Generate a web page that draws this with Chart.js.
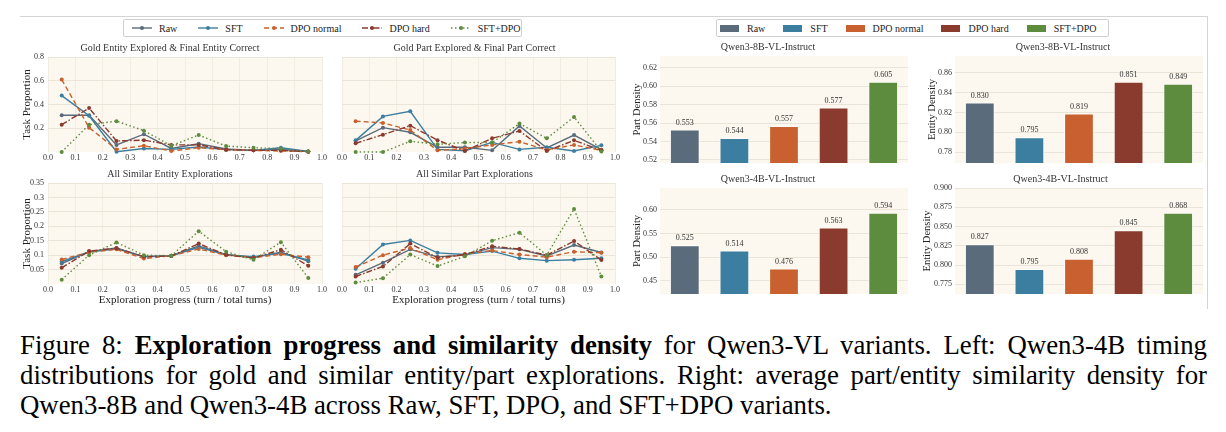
<!DOCTYPE html>
<html>
<head>
<meta charset="utf-8">
<script src="https://cdn.jsdelivr.net/npm/chart.js@4.4.1/dist/chart.umd.min.js"></script>
<style>
  body { margin: 0; background: #fff; width: 1226px; height: 432px; position: relative; overflow: hidden; font-family: "Liberation Serif", serif; }
  .cell { position: absolute; }
  .frame { position: absolute; left: 20px; top: 16px; width: 1187px; height: 292px; border-top: 1px solid #d4d4d4; border-right: 1px solid #d4d4d4; }
  .legend { position: absolute; top: 19px; height: 18px; border: 1px solid #cfcfcf; border-radius: 2px; background: #fff; display: flex; align-items: center; font-size: 10px; color: #222; box-sizing: border-box; white-space: nowrap; }
  .legend .item { display: flex; align-items: center; white-space: nowrap; }
  .legend svg { flex: none; }
  .caption { position: absolute; left: 20px; top: 330px; width: 1187px; font-size: 26.8px; line-height: 30px; color: #000; }
  .caption div { text-align: justify; text-align-last: justify; white-space: nowrap; }
  .caption div.last { text-align-last: left; }
</style>
</head>
<body>
<div class="frame"></div>
<div class="legend" id="lineLegend" style="left:123px; width:399px; padding-left:8px;"></div>
<div class="legend" id="barLegend" style="left:716px; width:393px; padding-left:3px;"></div>

<div class="cell" style="left:18px; top:42px; width:314px; height:124px;"><canvas id="c1"></canvas></div>
<div class="cell" style="left:334px; top:42px; width:291px; height:124px;"><canvas id="c2"></canvas></div>
<div class="cell" style="left:18px; top:168px; width:314px; height:139px;"><canvas id="c3"></canvas></div>
<div class="cell" style="left:334px; top:168px; width:291px; height:139px;"><canvas id="c4"></canvas></div>

<div class="cell" style="left:628px; top:41px; width:282px; height:122px;"><canvas id="b1"></canvas></div>
<div class="cell" style="left:923px; top:41px; width:282px; height:122px;"><canvas id="b2"></canvas></div>
<div class="cell" style="left:628px; top:173px; width:282px; height:121px;"><canvas id="b3"></canvas></div>
<div class="cell" style="left:918px; top:173px; width:287px; height:121px;"><canvas id="b4"></canvas></div>

<div class="caption">
  <div>Figure 8: <b>Exploration progress and similarity density</b> for Qwen3-VL variants. Left: Qwen3-4B timing</div>
  <div>distributions for gold and similar entity/part explorations. Right: average part/entity similarity density for</div>
  <div class="last">Qwen3-8B and Qwen3-4B across Raw, SFT, DPO, and SFT+DPO variants.</div>
</div>

<script>
// series
const seriesNames = ['Raw', 'SFT', 'DPO normal', 'DPO hard', 'SFT+DPO'];
const seriesColors = ['#5a6b7c', '#3b7ea0', '#c8612f', '#8b3a2e', '#5e8c3f'];
const lineDashes = [[], [], [5, 3], [6, 2, 1.5, 2], [1.5, 2.5]];

// exploration progress bins (x)
const progressBins = [0.05, 0.15, 0.25, 0.35, 0.45, 0.55, 0.65, 0.75, 0.85, 0.95];

// rows: Raw, SFT, DPO normal, DPO hard, SFT+DPO
const goldEntity = [
  [0.31, 0.31, 0.06, 0.15, 0.03, 0.07, 0.025, 0.014, 0.022, 0.004],
  [0.475, 0.305, 0.003, 0.03, 0.022, 0.042, 0.02, 0.014, 0.036, 0.004],
  [0.61, 0.205, 0.022, 0.053, 0.008, 0.036, 0.02, 0.014, 0.008, 0.003],
  [0.23, 0.37, 0.093, 0.10, 0.06, 0.06, 0.02, 0.014, 0.014, 0.003],
  [0.0, 0.23, 0.26, 0.18, 0.053, 0.143, 0.05, 0.036, 0.028, 0.004]
];
const goldPart = [
  [0.093, 0.205, 0.166, 0.04, 0.04, 0.014, 0.22, 0.034, 0.143, 0.02],
  [0.098, 0.30, 0.343, 0.022, 0.011, 0.081, 0.022, 0.04, 0.008, 0.056],
  [0.26, 0.245, 0.185, 0.014, 0.028, 0.06, 0.087, 0.017, 0.06, 0.014],
  [0.073, 0.146, 0.222, 0.10, 0.008, 0.115, 0.177, 0.008, 0.098, 0.014],
  [0.0, 0.0, 0.09, 0.065, 0.08, 0.079, 0.24, 0.115, 0.295, 0.005]
];
const similarEntity = [
  [0.071, 0.112, 0.125, 0.094, 0.098, 0.132, 0.102, 0.092, 0.11, 0.079],
  [0.078, 0.111, 0.122, 0.095, 0.098, 0.127, 0.101, 0.095, 0.106, 0.083],
  [0.085, 0.110, 0.120, 0.088, 0.098, 0.121, 0.100, 0.091, 0.103, 0.093],
  [0.056, 0.114, 0.124, 0.095, 0.097, 0.140, 0.101, 0.090, 0.119, 0.063],
  [0.015, 0.100, 0.144, 0.100, 0.098, 0.183, 0.112, 0.084, 0.145, 0.021]
];
const similarPart = [
  [0.032, 0.074, 0.12, 0.094, 0.10, 0.126, 0.12, 0.097, 0.135, 0.109],
  [0.053, 0.137, 0.151, 0.108, 0.102, 0.114, 0.089, 0.081, 0.084, 0.089],
  [0.059, 0.10, 0.125, 0.084, 0.104, 0.116, 0.102, 0.093, 0.112, 0.108],
  [0.026, 0.061, 0.14, 0.091, 0.102, 0.131, 0.121, 0.10, 0.149, 0.083],
  [0.005, 0.02, 0.102, 0.062, 0.096, 0.15, 0.178, 0.10, 0.26, 0.026]
];
const goldTicks = [0.2, 0.4, 0.6, 0.8];
const similarTicks = [0.05, 0.1, 0.15, 0.2, 0.25, 0.3, 0.35];

// similarity density
const part8B = [0.553, 0.544, 0.557, 0.577, 0.605];
const entity8B = [0.830, 0.795, 0.819, 0.851, 0.849];
const part4B = [0.525, 0.514, 0.476, 0.563, 0.594];
const entity4B = [0.827, 0.795, 0.808, 0.845, 0.868];
const part8BTicks = [0.52, 0.54, 0.56, 0.58, 0.60, 0.62];
const entity8BTicks = [0.78, 0.80, 0.82, 0.84, 0.86];
const part4BTicks = [0.45, 0.50, 0.55, 0.60];
const entity4BTicks = [0.775, 0.800, 0.825, 0.850, 0.875, 0.900];

const FONT = '"Liberation Serif", serif';
const TEXT = '#333333';
const GRID = '#ebe5d9';

const plotBg = {
  id: 'plotBg',
  beforeDraw(chart) {
    const { ctx, chartArea: a } = chart;
    ctx.save();
    ctx.fillStyle = '#fcf8ef';
    ctx.fillRect(a.left, a.top, a.width, a.height);
    ctx.restore();
  }
};

const barLabels = {
  id: 'barLabels',
  afterDatasetsDraw(chart) {
    const ctx = chart.ctx;
    const vals = chart.data.datasets[0].data;
    ctx.save();
    ctx.font = '8px ' + FONT;
    ctx.fillStyle = TEXT;
    ctx.textAlign = 'center';
    ctx.textBaseline = 'bottom';
    chart.getDatasetMeta(0).data.forEach((bar, i) => {
      ctx.fillText(vals[i].toFixed(3), bar.x, bar.y - 3);
    });
    ctx.restore();
  }
};

function titleOpts(text) {
  return { display: true, text: text, color: TEXT, font: { family: FONT, size: 10, weight: 'normal' }, padding: { top: 0, bottom: 3 } };
}

function lineChart(id, title, rows, yMax, yTicks, showY, showXTitle) {
  new Chart(document.getElementById(id), {
    type: 'line',
    data: {
      datasets: rows.map((vals, i) => ({
        label: seriesNames[i],
        data: progressBins.map((x, j) => ({ x: x, y: vals[j] })),
        borderColor: seriesColors[i],
        backgroundColor: seriesColors[i],
        borderWidth: 1.4,
        borderDash: lineDashes[i],
        pointRadius: 2,
        pointBorderWidth: 0,
        tension: 0,
        order: 4 - i,
        clip: false
      }))
    },
    options: {
      responsive: true,
      maintainAspectRatio: false,
      animation: false,
      layout: { padding: { left: 0, right: 10, top: 0, bottom: 0 } },
      scales: {
        x: {
          type: 'linear', min: 0, max: 1,
          ticks: { stepSize: 0.1, autoSkip: false, maxRotation: 0, padding: 1, color: TEXT, font: { family: FONT, size: 8 }, callback: v => v.toFixed(1) },
          grid: { color: '#f2ede3', drawTicks: false },
          border: { display: false },
          title: { display: showXTitle, text: 'Exploration progress (turn / total turns)', color: '#222', font: { family: FONT, size: 11 }, padding: { top: 0, bottom: 0 } },
          afterFit: s => { s.height = showXTitle ? 23 : 14; s.paddingLeft = 0; s.paddingRight = 0; }
        },
        y: {
          min: 0, max: yMax,
          afterBuildTicks: a => { a.ticks = yTicks.map(v => ({ value: v })); },
          ticks: { display: showY, padding: 4, color: TEXT, font: { family: FONT, size: 8 }, callback: v => String(v) },
          grid: { color: GRID, drawTicks: false },
          border: { display: false },
          title: { display: showY, text: 'Task Proportion', color: '#222', font: { family: FONT, size: 11 }, padding: { top: 3, bottom: 0 } },
          afterFit: s => { s.width = showY ? 30 : 8; s.paddingTop = 0; s.paddingBottom = 0; }
        }
      },
      plugins: { legend: { display: false }, tooltip: { enabled: false }, title: titleOpts(title) }
    },
    plugins: [plotBg]
  });
}

function barChart(id, title, yTitle, vals, yMin, yMax, yTicks, decimals, axisWidth) {
  new Chart(document.getElementById(id), {
    type: 'bar',
    data: {
      labels: seriesNames,
      datasets: [{
        data: vals,
        backgroundColor: seriesColors,
        borderColor: 'rgba(255,255,255,0.75)',
        borderWidth: 1,
        barPercentage: 0.6,
        categoryPercentage: 1
      }]
    },
    options: {
      responsive: true,
      maintainAspectRatio: false,
      animation: false,
      layout: { padding: { left: 0, right: 2, top: 0, bottom: 0 } },
      scales: {
        x: { display: false },
        y: {
          min: yMin, max: yMax,
          afterBuildTicks: a => { a.ticks = yTicks.map(v => ({ value: v })); },
          ticks: { padding: 3, color: TEXT, font: { family: FONT, size: 8 }, callback: v => v.toFixed(decimals) },
          grid: { color: GRID, drawTicks: false },
          border: { display: false },
          title: { display: true, text: yTitle, color: '#222', font: { family: FONT, size: 10.5 }, padding: { top: 3, bottom: 0 } },
          afterFit: s => { s.width = axisWidth; s.paddingTop = 0; s.paddingBottom = 0; }
        }
      },
      plugins: { legend: { display: false }, tooltip: { enabled: false }, title: titleOpts(title) }
    },
    plugins: [plotBg, barLabels]
  });
}

lineChart('c1', 'Gold Entity Explored & Final Entity Correct', goldEntity, 0.8, goldTicks, true, false);
lineChart('c2', 'Gold Part Explored & Final Part Correct', goldPart, 0.8, goldTicks, false, false);
lineChart('c3', 'All Similar Entity Explorations', similarEntity, 0.35, similarTicks, true, true);
lineChart('c4', 'All Similar Part Explorations', similarPart, 0.35, similarTicks, false, true);

barChart('b1', 'Qwen3-8B-VL-Instruct', 'Part Density', part8B, 0.5167, 0.633, part8BTicks, 2, 32);
barChart('b2', 'Qwen3-8B-VL-Instruct', 'Entity Density', entity8B, 0.7689, 0.877, entity8BTicks, 2, 32);
barChart('b3', 'Qwen3-4B-VL-Instruct', 'Part Density', part4B, 0.4218, 0.6466, part4BTicks, 2, 32);
barChart('b4', 'Qwen3-4B-VL-Instruct', 'Entity Density', entity4B, 0.7624, 0.900, entity4BTicks, 3, 37);

// legends
const lineLegend = document.getElementById('lineLegend');
const barLegend = document.getElementById('barLegend');
seriesNames.forEach((name, i) => {
  const dash = lineDashes[i].join(' ');
  const it = document.createElement('div');
  it.className = 'item';
  it.style.marginRight = '21px';
  it.innerHTML = '<svg width="20" height="8" style="margin-right:7px"><line x1="0" y1="4" x2="20" y2="4" stroke="' + seriesColors[i] +
    '" stroke-width="1.4" stroke-dasharray="' + dash + '"/><circle cx="10" cy="4" r="2" fill="' + seriesColors[i] + '"/></svg><span>' + name + '</span>';
  lineLegend.appendChild(it);

  const bt = document.createElement('div');
  bt.className = 'item';
  bt.style.marginRight = '18px';
  bt.innerHTML = '<svg width="19" height="7" style="margin-right:8px"><rect x="0" y="0" width="19" height="7" fill="' + seriesColors[i] + '"/></svg><span>' + name + '</span>';
  barLegend.appendChild(bt);
});
</script>
</body>
</html>
